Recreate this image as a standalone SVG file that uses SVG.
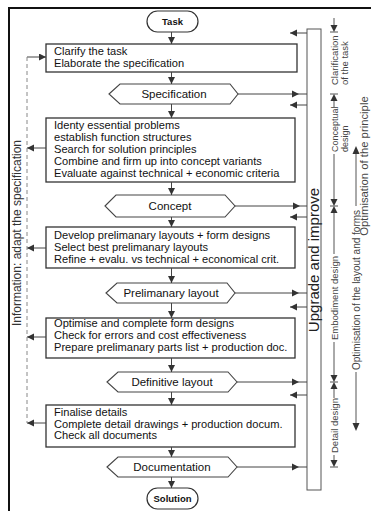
<svg xmlns="http://www.w3.org/2000/svg" width="371" height="511" viewBox="0 0 371 511">
<defs>
<style>
.box{fill:#fff;stroke:#333;stroke-width:1.3}
.hex{fill:#fff;stroke:#444;stroke-width:1.1}
.pill{fill:#fff;stroke:#333;stroke-width:1.2}
.t{font-family:"Liberation Sans",Arial,sans-serif;font-size:11.1px;fill:#111}
.ht{font-family:"Liberation Sans",Arial,sans-serif;font-size:11.5px;fill:#111;text-anchor:middle}
.pt{font-family:"Liberation Sans",Arial,sans-serif;font-size:9.5px;font-weight:bold;fill:#111;text-anchor:middle}
.lbl{font-family:"Liberation Sans",Arial,sans-serif;font-size:9.5px;fill:#444}
.ln{stroke:#444;stroke-width:1;fill:none}
.gl{stroke:#555;stroke-width:1;fill:none}
.ah{fill:#333}
</style>
<marker id="a" markerUnits="userSpaceOnUse" markerWidth="8" markerHeight="8" refX="7" refY="3.5" orient="auto"><path d="M0,0L7,3.5L0,7z" fill="#333"/></marker>
</defs>
<path d="M9,511V8H371" fill="none" stroke="#111" stroke-width="2"/>

<g id="task"><rect class="pill" x="147" y="11" width="51" height="21" rx="10.5"/><text class="pt" x="172.5" y="25">Task</text></g>
<g id="clarify"><rect class="box" x="46" y="44" width="251" height="28"/><text class="t" x="54" y="55">Clarify the task</text><text class="t" x="54" y="67">Elaborate the specification</text></g>
<g id="specification"><polygon class="hex" points="109,94 120,84 230,84 238,94 230,104 120,104"/><text class="ht" x="174" y="98">Specification</text></g>
<g id="conceptual"><rect class="box" x="46" y="118" width="249" height="64"/>
<text class="t" x="54" y="128.5">Identy essential problems</text>
<text class="t" x="54" y="140.5">establish function structures</text>
<text class="t" x="54" y="152.5">Search for solution principles</text>
<text class="t" x="54" y="164.5">Combine and firm up into concept variants</text>
<text class="t" x="54" y="176.5">Evaluate against technical + economic criteria</text></g>
<g id="concept"><polygon class="hex" points="105,206 116,195 225,195 235,206 225,217 116,217"/><text class="ht" x="170" y="210">Concept</text></g>
<g id="embodiment"><rect class="box" x="46" y="227" width="249" height="41"/>
<text class="t" x="54" y="239">Develop prelimanary layouts + form designs</text>
<text class="t" x="54" y="251">Select best prelimanary layouts</text>
<text class="t" x="54" y="263">Refine + evalu. vs  technical + economical crit.</text></g>
<g id="prelim"><polygon class="hex" points="106,293 117,283 227,283 235,293 227,303 117,303"/><text class="ht" x="171" y="297">Prelimanary layout</text></g>
<g id="optimise"><rect class="box" x="46" y="318" width="249" height="40"/>
<text class="t" x="54" y="327">Optimise and complete form designs</text>
<text class="t" x="54" y="339">Check for errors and cost effectiveness</text>
<text class="t" x="54" y="351">Prepare prelimanary parts list + production doc.</text></g>
<g id="definitive"><polygon class="hex" points="107,382 118,372 228,372 237,382 228,392 118,392"/><text class="ht" x="172" y="386">Definitive layout</text></g>
<g id="detail"><rect class="box" x="46" y="405" width="249" height="42"/>
<text class="t" x="54" y="416">Finalise details</text>
<text class="t" x="54" y="427.5">Complete detail drawings + production docum.</text>
<text class="t" x="54" y="439">Check all documents</text></g>
<g id="documentation"><polygon class="hex" points="107,467 118,457 228,457 237,467 228,477 118,477"/><text class="ht" x="172" y="471">Documentation</text></g>
<g id="solution"><rect class="pill" x="147" y="488" width="51" height="21" rx="10.5"/><text class="pt" x="172.5" y="502">Solution</text></g>

<g id="upgrade"><rect x="307" y="29" width="14" height="461" fill="#fff" stroke="#555" stroke-width="1"/>
<text transform="translate(319,260) rotate(-90)" font-family="Liberation Sans,Arial,sans-serif" font-size="15px" fill="#222" text-anchor="middle">Upgrade and improve</text></g>

<g id="connectors">
<g class="ln" marker-end="url(#a)">
<line x1="171.5" y1="32" x2="171.5" y2="44"/>
<line x1="171.5" y1="72" x2="171.5" y2="84"/>
<line x1="171.5" y1="104" x2="171.5" y2="118"/>
<line x1="171.5" y1="182" x2="171.5" y2="195"/>
<line x1="171.5" y1="217" x2="171.5" y2="227"/>
<line x1="171.5" y1="268" x2="171.5" y2="283"/>
<line x1="171.5" y1="303" x2="171.5" y2="318"/>
<line x1="171.5" y1="358" x2="171.5" y2="372"/>
<line x1="171.5" y1="392" x2="171.5" y2="405"/>
<line x1="171.5" y1="447" x2="171.5" y2="457"/>
<line x1="171.5" y1="477" x2="171.5" y2="488"/>
<line x1="307" y1="33" x2="290" y2="33"/>
<line x1="307" y1="105" x2="290" y2="105"/>
<line x1="307" y1="217" x2="290" y2="217"/>
<line x1="307" y1="307" x2="290" y2="307"/>
<line x1="307" y1="395" x2="290" y2="395"/>
<line x1="27" y1="57" x2="46" y2="57"/>
<line x1="46" y1="148" x2="27" y2="148"/>
<line x1="46" y1="248" x2="27" y2="248"/>
<line x1="46" y1="337" x2="27" y2="337"/>
<line x1="46" y1="423" x2="27" y2="423"/>
</g>
<g class="ln">
<line x1="238" y1="94" x2="307" y2="94"/>
<line x1="235" y1="206" x2="307" y2="206"/>
<line x1="235" y1="293" x2="307" y2="293"/>
<line x1="237" y1="382" x2="307" y2="382"/>
<line x1="237" y1="467" x2="307" y2="467"/>
</g>
<g class="ah">
<polygon points="299,94 292,90.5 292,97.5"/>
<polygon points="300,206 293,202.5 293,209.5"/>
<polygon points="299,293 292,289.5 292,296.5"/>
<polygon points="299,382 292,378.5 292,385.5"/>
<polygon points="299,467 292,463.5 292,470.5"/>
</g>
<line x1="27" y1="57" x2="27" y2="423" stroke="#888" stroke-width="1" stroke-dasharray="4,3"/>
</g>
<text transform="translate(21,233) rotate(-90)" font-family="Liberation Sans,Arial,sans-serif" font-size="12px" fill="#333" text-anchor="middle">Information: adapt the specification</text>

<g id="phases">
<g class="gl">
<line x1="334" y1="18" x2="334" y2="26"/><line x1="330" y1="32" x2="338" y2="32"/>
<line x1="330" y1="94" x2="338" y2="94"/><line x1="334" y1="100" x2="334" y2="107"/>
<line x1="334" y1="154" x2="334" y2="199"/><line x1="330" y1="206" x2="338" y2="206"/><line x1="334" y1="213" x2="334" y2="254"/>
<line x1="334" y1="342" x2="334" y2="375"/><line x1="330" y1="382" x2="338" y2="382"/><line x1="334" y1="388" x2="334" y2="398"/>
<line x1="334" y1="455" x2="334" y2="461"/><line x1="330" y1="467" x2="338" y2="467"/>
<line x1="356" y1="153" x2="356" y2="206"/><line x1="356" y1="372" x2="356" y2="424"/>
</g>
<g class="ah">
<polygon points="334,32 330.5,25 337.5,25"/>
<polygon points="334,94 330.5,101 337.5,101"/>
<polygon points="334,206 330.5,199 337.5,199"/>
<polygon points="334,206 330.5,213 337.5,213"/>
<polygon points="334,382 330.5,375 337.5,375"/>
<polygon points="334,382 330.5,389 337.5,389"/>
<polygon points="334,467 330.5,460 337.5,460"/>
<polygon points="356,146 352.5,154 359.5,154"/>
<polygon points="356,431 352.5,423 359.5,423"/>
</g>
<text class="lbl" transform="translate(337.5,85) rotate(-90)">Clarification</text>
<text class="lbl" transform="translate(348,85) rotate(-90)">of the task</text>
<text class="lbl" transform="translate(337.5,152) rotate(-90)" style="font-size:9px">Conceptual</text>
<text class="lbl" transform="translate(347.5,152) rotate(-90)" style="font-size:9px">design</text>
<text class="lbl" transform="translate(337.5,340) rotate(-90)">Embodiment design</text>
<text class="lbl" transform="translate(337.5,453) rotate(-90)">Detail design</text>
<text class="lbl" transform="translate(360,370) rotate(-90)" style="font-size:10px">Optimisation of the layout and forms</text>
<text class="lbl" transform="translate(368.3,166) rotate(-90)" style="font-size:11.3px;text-anchor:middle">Optimisation of the principle</text>
</g>
</svg>
